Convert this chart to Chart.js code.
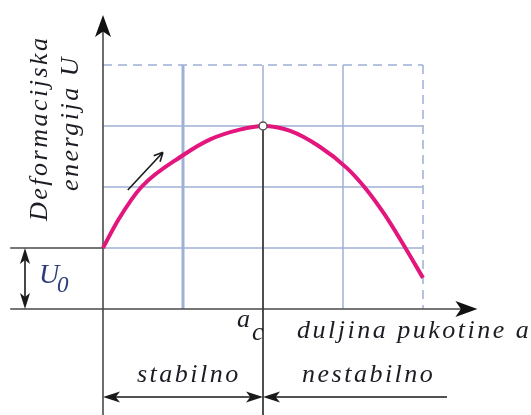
<!DOCTYPE html>
<html>
<head>
<meta charset="utf-8">
<script src="https://cdn.jsdelivr.net/npm/chart.js@4"></script>
<style>
  body { margin: 0; background: #fff; }
  canvas { display: block; }
</style>
</head>
<body>
<canvas id="chart" width="531" height="415"></canvas>
<script>
// curve (grid units: 1 cell = 1)
const crackLength = [0, 0.19, 0.48, 1.0, 1.34, 1.71, 2.0, 2.34, 2.71, 3.05, 3.28, 3.52, 3.78, 4.0];
const energy      = [1.0, 1.46, 2.0, 2.52, 2.78, 2.94, 3.0, 2.92, 2.66, 2.31, 1.98, 1.55, 1.0, 0.51];
const peakX = [2];
const peakY = [3];
const gridX = [1, 2, 3];
const gridY = [1, 2, 3];
const frameMax = 4;
const u0Level = 1;

const yTitle = ['Deformacijska', 'energija U'];
const xTitle = 'duljina pukotine a';
const critLabel = ['a', 'c'];
const zoneLabels = ['stabilno', 'nestabilno'];

const pink = '#e3167e';
const gridCol = '#9eb0d6';

function arrowHead(ctx, x, y, dir, len, half) {
  ctx.save();
  ctx.translate(x, y);
  ctx.rotate(dir);
  ctx.beginPath();
  ctx.moveTo(0, 0);
  ctx.lineTo(-len, -half);
  ctx.lineTo(-len * 0.75, 0);
  ctx.lineTo(-len, half);
  ctx.closePath();
  ctx.fill();
  ctx.restore();
}

const decor = {
  id: 'decor',
  beforeDatasetsDraw(chart) {
    const ctx = chart.ctx;
    const sx = chart.scales.x, sy = chart.scales.y;
    const px = v => sx.getPixelForValue(v);
    const py = v => sy.getPixelForValue(v);
    const left = px(-1.16), H = chart.height;
    ctx.save();
    ctx.strokeStyle = gridCol;
    ctx.lineWidth = 1.5;
    gridY.forEach(v => {
      ctx.beginPath(); ctx.moveTo(px(0), py(v)); ctx.lineTo(px(frameMax), py(v)); ctx.stroke();
    });
    gridX.forEach(v => {
      ctx.lineWidth = v === 1 ? 3 : 1.5;
      ctx.beginPath();
      ctx.moveTo(px(v), py(frameMax));
      ctx.lineTo(px(v), v === peakX[0] ? py(peakY[0]) : py(0));
      ctx.stroke();
    });
    ctx.lineWidth = 1.5;
    ctx.setLineDash([9, 6]);
    ctx.beginPath();
    ctx.moveTo(px(0), py(frameMax)); ctx.lineTo(px(frameMax), py(frameMax));
    ctx.moveTo(px(frameMax), py(frameMax)); ctx.lineTo(px(frameMax), py(0));
    ctx.stroke();
    ctx.setLineDash([]);

    // axes
    ctx.strokeStyle = '#4a4a4a';
    ctx.fillStyle = '#111';
    ctx.lineWidth = 1.6;
    ctx.beginPath();
    ctx.moveTo(px(0), py(4.82) + 10); ctx.lineTo(px(0), H);
    ctx.moveTo(left, py(0)); ctx.lineTo(px(4.68) - 10, py(0));
    ctx.moveTo(left, py(u0Level)); ctx.lineTo(px(0), py(u0Level));
    ctx.stroke();
    arrowHead(ctx, px(0), py(4.82), -Math.PI / 2, 22, 8);
    arrowHead(ctx, px(4.68), py(0), 0, 22, 8);

    // a_c line
    ctx.strokeStyle = '#3c3c3c';
    ctx.lineWidth = 1.8;
    ctx.beginPath();
    ctx.moveTo(px(peakX[0]), py(peakY[0])); ctx.lineTo(px(peakX[0]), H);
    ctx.stroke();
    ctx.restore();
  },
  afterDatasetsDraw(chart) {
    const ctx = chart.ctx;
    const sx = chart.scales.x, sy = chart.scales.y;
    const px = v => sx.getPixelForValue(v);
    const py = v => sy.getPixelForValue(v);
    ctx.save();
    ctx.strokeStyle = '#1a1a1a';
    ctx.fillStyle = '#1a1a1a';
    ctx.lineWidth = 1.6;

    // U0 dimension
    const ux = px(-0.975);
    ctx.beginPath(); ctx.moveTo(ux, py(0) - 10); ctx.lineTo(ux, py(u0Level) + 10); ctx.stroke();
    arrowHead(ctx, ux, py(u0Level), -Math.PI / 2, 16, 5);
    arrowHead(ctx, ux, py(0), Math.PI / 2, 16, 5);

    // small direction arrow
    const ax0 = px(0.31), ay0 = py(1.95), ax1 = px(0.75), ay1 = py(2.57);
    const ang = Math.atan2(ay1 - ay0, ax1 - ax0);
    ctx.beginPath(); ctx.moveTo(ax0, ay0); ctx.lineTo(ax1, ay1);
    ctx.moveTo(ax1, ay1); ctx.lineTo(ax1 - 10 * Math.cos(ang - 0.45), ay1 - 10 * Math.sin(ang - 0.45));
    ctx.moveTo(ax1, ay1); ctx.lineTo(ax1 - 10 * Math.cos(ang + 0.45), ay1 - 10 * Math.sin(ang + 0.45));
    ctx.stroke();

    // zone arrows
    const zy = py(-1.443);
    ctx.beginPath();
    ctx.moveTo(px(0) + 10, zy); ctx.lineTo(px(peakX[0]) - 10, zy);
    ctx.moveTo(px(peakX[0]) + 10, zy); ctx.lineTo(px(4.3), zy);
    ctx.stroke();
    arrowHead(ctx, px(0), zy, Math.PI, 17, 5.5);
    arrowHead(ctx, px(peakX[0]), zy, 0, 17, 5.5);
    arrowHead(ctx, px(peakX[0]), zy, Math.PI, 17, 5.5);

    // texts
    ctx.font = 'italic 26px "Liberation Serif"';
    ctx.letterSpacing = '2.5px';
    ctx.textBaseline = 'alphabetic';
    ctx.textAlign = 'left';
    ctx.fillStyle = '#1c1c24';
    ctx.save();
    ctx.translate(47, 221); ctx.rotate(-Math.PI / 2); ctx.fillText(yTitle[0], 0, 0);
    ctx.restore();
    ctx.save();
    ctx.translate(78, 191); ctx.rotate(-Math.PI / 2); ctx.fillText(yTitle[1], 0, 0);
    ctx.restore();

    ctx.fillText(xTitle, 297, 338);
    ctx.fillText(zoneLabels[0], 137, 382);
    ctx.fillText(zoneLabels[1], 302, 382);
    ctx.letterSpacing = '0px';
    ctx.fillText(critLabel[0], 237, 327);
    ctx.fillText(critLabel[1], 252, 340);

    ctx.fillStyle = '#2b3c78';
    ctx.font = 'italic 28px "Liberation Serif"';
    ctx.fillText('U', 39, 283);
    ctx.font = 'italic 23px "Liberation Serif"';
    ctx.fillText('0', 57, 292);
    ctx.restore();
  }
};

new Chart(document.getElementById('chart'), {
  type: 'scatter',
  data: {
    datasets: [
      {
        data: crackLength.map((x, i) => ({ x: x, y: energy[i] })),
        showLine: true,
        borderColor: pink,
        borderWidth: 4,
        pointRadius: 0,
        pointHoverRadius: 0,
        cubicInterpolationMode: 'monotone',
        order: 2
      },
      {
        data: peakX.map((x, i) => ({ x: x, y: peakY[i] })),
        pointRadius: 4,
        pointHoverRadius: 4,
        pointBackgroundColor: '#ffffff',
        pointBorderColor: '#555',
        pointBorderWidth: 1.5,
        order: 1
      }
    ]
  },
  options: {
    responsive: false,
    animation: false,
    events: [],
    layout: { padding: 10 },
    plugins: { legend: { display: false }, tooltip: { enabled: false } },
    scales: {
      x: { type: 'linear', display: false, min: -1.1625, max: 5.225 },
      y: { type: 'linear', display: false, min: -1.5738, max: 4.9016 }
    }
  },
  plugins: [decor]
});
</script>
</body>
</html>
